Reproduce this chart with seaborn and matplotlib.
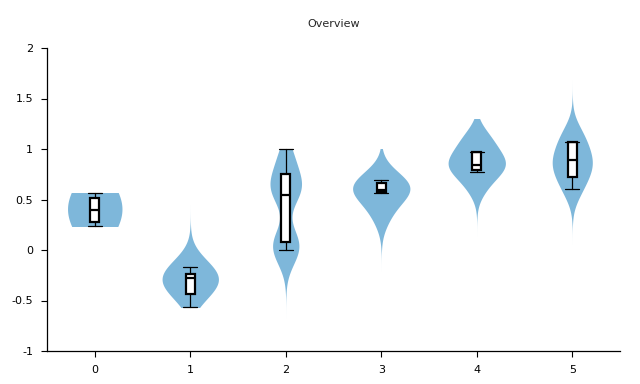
import matplotlib
matplotlib.use("Agg")
import matplotlib.pyplot as plt
from matplotlib.patches import Rectangle
import seaborn as sns
import pandas as pd

# ---- data ----
categories = ["0", "1", "2", "3", "4", "5"]

samples_0 = [0.24, 0.28, 0.33, 0.38, 0.41, 0.44, 0.49, 0.52, 0.56]
samples_1 = [-0.50, -0.43, -0.38, -0.33, -0.30, -0.28, -0.25, -0.21, -0.16, -0.10]
samples_2 = [-0.10, -0.03, 0.02, 0.06, 0.10, 0.16, 0.50, 0.56, 0.60, 0.63, 0.66, 0.72, 0.80, 0.90, 0.98]
samples_3 = [0.30, 0.42, 0.50, 0.56, 0.59, 0.61, 0.63, 0.66, 0.70, 0.76]
samples_4 = [0.60, 0.72, 0.78, 0.82, 0.85, 0.88, 0.93, 1.00, 1.07, 1.15]
samples_5 = [0.56, 0.66, 0.74, 0.80, 0.85, 0.89, 0.95, 1.02, 1.10, 1.18]
all_samples = [samples_0, samples_1, samples_2, samples_3, samples_4, samples_5]

# violin clipping range (data limits)
clip_low = [0.24, -0.56, -1.0, -1.0, -1.0, -1.0]
clip_high = [0.56, 2.0, 1.0, 1.0, 1.30, 2.0]

# box statistics
whis_low = [0.24, -0.56, 0.00, 0.565, 0.77, 0.60]
quart_1 = [0.28, -0.44, 0.08, 0.575, 0.795, 0.72]
medians = [0.40, -0.28, 0.54, 0.59, 0.845, 0.89]
quart_3 = [0.515, -0.24, 0.75, 0.665, 0.97, 1.07]
whis_high = [0.56, -0.165, 1.00, 0.695, 0.975, 1.07]

y_ticks = [-1, -0.5, 0, 0.5, 1, 1.5, 2]
y_tick_labels = ["-1", "-0.5", "0", "0.5", "1", "1.5", "2"]

# ---- style per violin ----
violin_width = [0.57, 0.59, 0.33, 0.60, 0.60, 0.42]
violin_bw = [4.0, 1.8, 0.7, 1.5, 1.1, 1.05]
violin_color = "#7EB7DA"

sns.set_style("ticks")
plt.rcParams["font.family"] = ["DejaVu Sans"]

fig = plt.figure(figsize=(6.4, 3.84), dpi=100)
ax = fig.add_axes([47 / 640, 1 - 351 / 384, (620 - 47) / 640, (351 - 48) / 384])

for i, cat in enumerate(categories):
    df = pd.DataFrame({"cat": [cat] * len(all_samples[i]), "val": all_samples[i]})
    n_before = len(ax.collections)
    sns.violinplot(data=df, x="cat", y="val", order=categories, ax=ax,
                   inner=None, color=violin_color, saturation=1, linewidth=0,
                   width=violin_width[i], bw_adjust=violin_bw[i], cut=4,
                   density_norm="width", gridsize=300)
    clip = Rectangle((i - 0.5, clip_low[i]), 1.0, clip_high[i] - clip_low[i],
                     transform=ax.transData)
    for coll in ax.collections[n_before:]:
        coll.set_clip_path(clip)

stats = []
for i in range(len(categories)):
    stats.append({"whislo": whis_low[i], "q1": quart_1[i], "med": medians[i],
                  "q3": quart_3[i], "whishi": whis_high[i], "fliers": []})

ax.bxp(stats, positions=list(range(len(categories))), widths=0.095,
       capwidths=0.15, patch_artist=True, showfliers=False, manage_ticks=False,
       boxprops=dict(facecolor="white", edgecolor="black", linewidth=1.6),
       medianprops=dict(color="black", linewidth=1.6),
       whiskerprops=dict(color="black", linewidth=0.9),
       capprops=dict(color="black", linewidth=0.9), zorder=3)

ax.set_xlim(-0.5, 5.5)
ax.set_ylim(-1, 2)
ax.set_yticks(y_ticks)
ax.set_yticklabels(y_tick_labels)
ax.set_xticks(range(len(categories)))
ax.set_xticklabels(categories)
ax.set_xlabel("")
ax.set_ylabel("")
ax.tick_params(axis="both", labelsize=8, length=4, width=0.8, color="black",
               labelcolor="black", pad=6)
for s in ["left", "bottom"]:
    ax.spines[s].set_linewidth(0.9)
    ax.spines[s].set_color("black")
sns.despine(ax=ax)
ax.set_title("Overview", fontsize=8, pad=15)

fig.savefig("out.png", dpi=100)
